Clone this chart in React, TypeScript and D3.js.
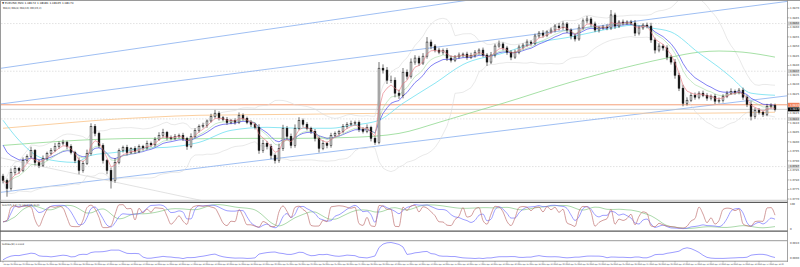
import React from "react";
import * as d3 from "d3";

// ---------- data ----------
const SYMBOL_TITLE = "\u25BC EURUSD,M20  1.08172 1.08181 1.08165 1.08170";
const INDICATOR_TITLE = "MA(4)  MA(8)  MA(10)  BB(20,2)";
const STOCH_TITLE = "Stoch(5,3,3) 72.1404 65.3021";
const STD_TITLE = "StdDev(8) 0.0003";
const BASE_PRICE = 1.077;
const PIP = 0.0001;
const FIRST_OPEN = 12.0;

const closePips = [
  9.7, 5.5, 13.9, 16.0, 15.0, 20.2, 22.3, 25.5, 19.2, 17.6,
  21.3, 23.9, 25.5, 27.6, 29.2, 29.7, 27.6, 24.4, 20.2, 15.0,
  18.7, 23.9, 38.1, 34.4, 28.1, 20.2, 15.0, 9.7, 19.2, 25.5,
  27.1, 24.4, 26.5, 25.0, 27.6, 26.8, 29.2, 28.4, 31.3, 33.4,
  35.0, 32.3, 31.8, 32.9, 33.4, 31.8, 27.6, 32.9, 36.0, 38.1,
  38.6, 40.9, 43.4, 45.0, 42.6, 41.8, 40.1, 41.2, 40.3, 43.9,
  42.3, 40.2, 39.2, 37.6, 25.5, 29.2, 27.6, 22.9, 20.2, 26.6,
  37.1, 32.9, 28.1, 37.1, 41.3, 39.2, 37.1, 35.5, 31.8, 26.6,
  29.2, 28.1, 33.4, 34.4, 35.5, 38.1, 39.2, 39.7, 40.2, 36.5,
  35.5, 37.6, 31.8, 29.7, 68.6, 67.6, 62.3, 62.3, 55.5, 54.4,
  66.5, 64.4, 71.8, 73.9, 71.3, 74.9, 82.3, 80.2, 78.1, 77.0,
  78.0, 73.9, 72.8, 74.5, 75.5, 76.0, 74.4, 75.2, 77.0, 78.1,
  75.5, 71.8, 75.5, 80.2, 81.3, 79.2, 77.0, 74.4, 77.0, 79.7,
  80.7, 82.3, 81.6, 85.5, 87.0, 85.9, 87.6, 88.6, 90.7, 89.8,
  91.8, 88.6, 85.5, 83.9, 89.7, 93.4, 94.4, 91.8, 88.6, 89.7,
  90.2, 89.7, 96.5, 90.7, 92.8, 92.3, 92.8, 92.3, 87.0, 89.7,
  91.2, 90.7, 83.4, 78.1, 80.2, 79.2, 74.4, 71.8, 64.9, 58.1,
  50.2, 51.8, 54.4, 53.4, 55.5, 54.4, 52.9, 53.9, 51.3, 51.8,
  53.9, 55.5, 56.5, 56.0, 57.1, 53.4, 49.7, 43.4, 46.5, 45.5,
  44.4, 48.6, 49.1, 47.0,
];

const upperWickPips = [
  1.2, 1.0, 2.1, 1.4, 0.8, 1.6, 1.1, 1.9, 0.7, 1.3,
  1.5, 0.9, 1.2, 1.8, 1.0, 1.4, 0.8, 1.1, 0.9, 1.6,
  1.3, 2.0, 1.6, 1.2, 0.9, 1.1, 0.8, 1.5, 2.2, 1.0,
  0.9, 1.3, 0.7, 1.2, 1.0, 0.8, 1.4, 0.9, 1.1, 1.6,
  1.8, 0.7, 1.0, 1.2, 0.9, 1.3, 0.8, 1.5, 1.1, 1.0,
  1.4, 0.8, 1.3, 1.7, 1.0, 0.9, 1.2, 0.8, 1.1, 1.5,
  1.0, 0.9, 1.2, 0.8, 1.6, 1.9, 1.1, 1.3, 1.0, 2.4,
  1.8, 1.2, 1.4, 2.0, 1.6, 0.9, 1.1, 0.8, 1.2, 1.0,
  1.5, 0.9, 1.3, 1.0, 0.8, 1.2, 1.1, 1.4, 0.9, 1.0,
  1.2, 1.5, 0.8, 1.0, 3.2, 2.0, 1.6, 2.4, 1.5, 1.8,
  2.2, 1.4, 1.9, 1.5, 1.2, 1.6, 2.6, 1.3, 1.0, 1.2,
  0.9, 1.1, 1.4, 1.0, 1.3, 0.8, 1.2, 1.5, 1.1, 0.9,
  1.3, 1.0, 1.6, 1.2, 1.8, 0.9, 1.1, 1.0, 1.3, 1.2,
  1.0, 1.4, 0.9, 1.2, 1.1, 1.5, 0.8, 1.3, 1.0, 1.6,
  1.4, 1.0, 0.9, 1.2, 1.8, 1.3, 1.6, 1.0, 1.2, 0.9,
  1.1, 1.4, 2.6, 1.2, 1.0, 1.3, 0.9, 1.1, 1.5, 1.2,
  1.0, 1.3, 1.7, 1.2, 1.5, 1.0, 1.4, 1.1, 1.6, 1.3,
  1.8, 1.5, 1.2, 1.4, 1.0, 1.3, 1.1, 0.9, 1.2, 1.4,
  1.0, 1.2, 1.5, 0.9, 1.1, 1.3, 1.0, 1.6, 1.4, 1.2,
  1.0, 1.3, 1.1, 0.9,
];

const lowerWickPips = [
  1.5, 4.3, 1.0, 1.3, 1.8, 0.9, 1.2, 1.0, 1.6, 1.4,
  0.8, 1.2, 1.0, 0.9, 1.3, 1.1, 1.5, 1.0, 1.4, 2.0,
  1.2, 0.9, 1.1, 1.5, 1.3, 1.6, 2.0, 4.2, 1.2, 1.0,
  1.1, 1.4, 0.8, 1.2, 1.0, 1.3, 0.9, 1.1, 1.0, 0.8,
  1.2, 1.5, 1.0, 0.9, 1.1, 1.4, 1.8, 1.0, 0.9, 1.2,
  1.0, 1.3, 0.8, 1.1, 1.4, 1.0, 1.2, 0.9, 1.3, 1.0,
  1.2, 1.0, 1.4, 1.1, 1.8, 1.3, 1.6, 2.0, 1.6, 1.2,
  1.4, 1.8, 1.5, 1.2, 1.0, 1.3, 1.1, 1.4, 1.6, 2.2,
  1.0, 1.5, 1.2, 0.9, 1.1, 1.0, 1.3, 0.8, 1.2, 1.4,
  1.1, 1.0, 1.6, 1.3, 1.0, 1.8, 2.0, 1.5, 2.2, 1.9,
  1.6, 1.8, 1.2, 1.4, 1.5, 1.0, 1.3, 1.6, 1.2, 1.1,
  1.3, 1.5, 1.2, 1.0, 0.9, 1.2, 1.4, 1.0, 1.1, 1.3,
  1.2, 2.0, 1.0, 1.3, 0.9, 1.2, 1.4, 1.6, 1.0, 1.1,
  1.3, 0.9, 1.2, 1.0, 1.1, 1.3, 1.0, 0.9, 1.2, 1.4,
  1.1, 1.6, 1.8, 1.3, 1.0, 0.9, 1.2, 1.4, 1.1, 1.3,
  1.0, 1.2, 1.1, 1.5, 1.0, 1.2, 0.9, 1.1, 1.6, 1.2,
  1.0, 1.2, 1.5, 1.8, 1.2, 1.4, 1.6, 1.3, 1.8, 1.5,
  1.6, 1.2, 1.0, 1.3, 1.1, 1.0, 1.4, 1.2, 1.5, 1.1,
  1.2, 1.0, 0.9, 1.3, 1.1, 1.4, 1.5, 2.2, 1.3, 1.2,
  1.4, 1.0, 1.2, 1.1,
];

const START_TIME = new Date(2024, 3, 24, 2, 0);
const BAR_MINUTES = 20;

const priceTickLabels = [
  "1.0870", "1.0865", "1.0860", "1.0855", "1.0850", "1.0845", "1.0840",
  "1.0835", "1.0830", "1.0825", "1.0820", "1.0815", "1.0810", "1.0805",
  "1.0800", "1.0795", "1.0790", "1.0785", "1.0780", "1.0775", "1.0770",
];
const levelLabels = ["1.0862", "1.0837", "1.0812", "1.0787"];
const resistanceLabel = "1.0819";
const stochAxisLabels = ["100", "0"];
const stdAxisLabels = ["0.0010", "0.0000"];

const BLUE_SEED_PIPS = 32;

// slower indicator lines: [bar, pips]
const cyanLine: [number, number][] = [
  [0, 41.3], [4, 30.8], [10, 21.3], [18, 19.2], [22, 22.9], [28, 24.4], [35, 26.6],
  [41, 27.1], [49, 29.7], [57, 36.0], [66, 37.6], [74, 37.1], [82, 37.1], [87, 38.6],
  [91, 39.7], [94, 41.3], [100, 50.2], [108, 60.7], [115, 70.5], [125, 76.5],
  [133, 81.8], [142, 85.0], [150, 88.6], [158, 91.2], [162, 89.7], [167, 87.6],
  [174, 76.5], [179, 69.0], [182, 63.9], [187, 55.5], [193, 54.4],
];
const slowGreenLine: [number, number][] = [
  [0, 28.1], [7, 29.2], [14, 30.2], [24, 31.3], [37, 31.8], [49, 31.6], [62, 31.8],
  [74, 31.8], [87, 32.3], [99, 34.4], [109, 40.2], [119, 46.5], [125, 50.2],
  [142, 61.3], [158, 70.2], [167, 74.4], [174, 77.0], [179, 77.6], [185, 77.0], [193, 74.4],
];
const orangeMaLine: [number, number][] = [
  [0, 37.1], [12, 39.2], [24, 41.3], [37, 42.9], [49, 43.9], [74, 44.4],
  [99, 45.0], [137, 45.0], [174, 45.0], [193, 45.5],
];
// drawn objects: [bar, pips] anchors
const channelLines: [number, number][][] = [
  [[-1, 3.4], [196, 54.1]],
  [[-1, 49.7], [196, 103.6]],
  [[-1, 68.4], [119, 105.1]],
];
const greyTrendLine: [number, number][] = [[-1, 21.8], [60, -5.4]];
const levelPips = [92, 67, 42, 17];
const resistancePips = 49.4;

// ---------- helpers ----------
function ema(v: number[], period: number, seed?: number) {
  const a = 2 / (period + 1);
  let prev = seed ?? v[0];
  return v.map((x, i) => {
    if (i === 0 && seed === undefined) return prev;
    prev = prev + a * (x - prev);
    return prev;
  });
}
function rolling(v: number[], n: number, fn: (w: number[]) => number) {
  return v.map((_, i) => fn(v.slice(Math.max(0, i - n + 1), i + 1)));
}
function popStd(w: number[]) {
  const m = d3.mean(w)!;
  return Math.sqrt(d3.mean(w.map((x) => (x - m) * (x - m)))!);
}
function stoch(h: number[], l: number[], c: number[], n: number, slow: number) {
  const num = c.map((ci, i) => ci - d3.min(l.slice(Math.max(0, i - n + 1), i + 1))!);
  const den = c.map((_, i) => {
    const s = Math.max(0, i - n + 1);
    return d3.max(h.slice(s, i + 1))! - d3.min(l.slice(s, i + 1))!;
  });
  return c.map((_, i) => {
    const s = Math.max(0, i - slow + 1);
    const a = d3.sum(num.slice(s, i + 1));
    const b = d3.sum(den.slice(s, i + 1));
    return b === 0 ? 50 : (100 * a) / b;
  });
}

export default function App() {
  const W = 800;
  const H = 267;
  const N = closePips.length;
  const price = (p: number) => BASE_PRICE + p * PIP;

  const opens = closePips.map((c, i) => (i === 0 ? FIRST_OPEN : closePips[i - 1]));
  const highs = closePips.map((c, i) => Math.max(opens[i], c) + upperWickPips[i]);
  const lows = closePips.map((c, i) => Math.min(opens[i], c) - lowerWickPips[i]);

  const x = d3.scaleLinear().domain([0, N - 1]).range([3, 775]);
  const y = d3.scaleLinear().domain([BASE_PRICE, BASE_PRICE + 0.01]).range([199, 8.3]);
  const py = (p: number) => y(price(p));

  const lineP = (curve = d3.curveLinear) =>
    d3.line<[number, number]>().x((d) => x(d[0])).y((d) => py(d[1])).curve(curve);
  const series = (v: number[]) => v.map((p, i) => [i, p] as [number, number]);

  const red = ema(closePips, 4);
  const fastGreen = ema(closePips, 8);
  const blue = ema(closePips, 11, BLUE_SEED_PIPS);
  const bbMid = rolling(closePips, 20, (w) => d3.mean(w)!);
  const bbSd = rolling(closePips, 20, popStd);
  const bbUp = bbMid.map((m, i) => m + 2 * bbSd[i]);
  const bbLo = bbMid.map((m, i) => m - 2 * bbSd[i]);

  // stochastic pane
  const stRed = stoch(highs, lows, closePips, 4, 1);
  const stBlue = stoch(highs, lows, closePips, 12, 2);
  const stGreenRaw = stoch(highs, lows, closePips, 30, 3);
  const stGreen = rolling(stGreenRaw, 4, (w) => d3.mean(w)!);
  const ys = d3.scaleLinear().domain([0, 100]).range([229.6, 203.6]);
  const stLine = d3.line<number>().x((_, i) => x(i)).y((d) => ys(d)).curve(d3.curveMonotoneX);

  // std pane
  const sd = rolling(closePips, 8, popStd).map((p) => p * PIP);
  const yd = d3.scaleLinear().domain([0, d3.max(sd)! * 1.04]).range([259.8, 241.8]);
  const sdLine = d3.line<number>().x((_, i) => x(i)).y((d) => yd(d));

  // time axis
  const times = closePips.map((_, i) => d3.timeMinute.offset(START_TIME, i * BAR_MINUTES));
  const fmt = d3.timeFormat("%d %b %H:%M");
  const timeTicks = times.map((t, i) => ({ t, i })).filter((d) => d.t.getMinutes() === 0);

  const lastClose = closePips[N - 1];
  const font = "'DejaVu Sans', sans-serif";
  const axisX = 787.5;

  const label = (yy: number, text: string, bg: string | null, fg: string, key: string) => (
    <g key={key}>
      {bg && <rect x={axisX + 0.5} y={yy - 2} width={W - axisX - 1} height={4} fill={bg} />}
      <text x={790} y={yy + 0.9} fontSize={2.6} fill={fg} fontFamily={font}>
        {text}
      </text>
    </g>
  );

  return (
    <svg
      width={W}
      height={H}
      style={{ position: "absolute", left: 0, top: 0, background: "#fff" }}
    >
      <defs>
        <clipPath id="mainClip">
          <rect x={1} y={1} width={axisX - 1} height={199} />
        </clipPath>
        <clipPath id="subClip">
          <rect x={1} y={202} width={axisX - 1} height={60} />
        </clipPath>
      </defs>
      <rect x={0} y={0} width={W} height={H} fill="#fff" />

      {/* frames */}
      <line x1={0.5} x2={W} y1={0.5} y2={0.5} stroke="#9a9a9a" />
      <line x1={0.5} x2={0.5} y1={0} y2={262} stroke="#9a9a9a" />
      <line x1={axisX} x2={axisX} y1={0} y2={262} stroke="#8a8a8a" strokeWidth={0.8} />
      <line x1={0} x2={axisX} y1={200.3} y2={200.3} stroke="#b0b0b0" strokeWidth={0.7} />
      <line x1={0} x2={axisX} y1={202.3} y2={202.3} stroke="#5a5a5a" strokeWidth={1.2} />
      <line x1={0} x2={axisX} y1={231.2} y2={231.2} stroke="#5a5a5a" strokeWidth={1.2} />
      <line x1={0} x2={axisX} y1={240.7} y2={240.7} stroke="#9a9a9a" strokeWidth={1} />
      <line x1={0} x2={axisX} y1={261.2} y2={261.2} stroke="#9a9a9a" strokeWidth={1} />

      {/* main pane */}
      <g clipPath="url(#mainClip)">
        {levelPips.map((p, i) => (
          <line key={"lv" + i} x1={1} x2={axisX} y1={py(p)} y2={py(p)} stroke="#cfcfcf" strokeWidth={0.6} strokeDasharray="1.5,1.5" />
        ))}
        {channelLines.map((l, i) => (
          <path key={"ch" + i} d={lineP()(l)!} stroke="#86aef0" strokeWidth={0.8} fill="none" />
        ))}
        <path d={lineP()(greyTrendLine)!} stroke="#d6d6d6" strokeWidth={0.7} fill="none" />
        <line x1={1} x2={axisX} y1={py(resistancePips)} y2={py(resistancePips)} stroke="#f6a07a" strokeWidth={1} />
        <line x1={1} x2={axisX} y1={py(lastClose)} y2={py(lastClose)} stroke="#c4c4c4" strokeWidth={0.8} />
        <path d={lineP(d3.curveMonotoneX)(orangeMaLine)!} stroke="#fbc995" strokeWidth={0.9} fill="none" />
        <path d={lineP()(series(bbUp))!} stroke="#dadada" strokeWidth={0.6} fill="none" />
        <path d={lineP()(series(bbLo))!} stroke="#dadada" strokeWidth={0.6} fill="none" />
        <path d={lineP(d3.curveMonotoneX)(slowGreenLine)!} stroke="#8fd88f" strokeWidth={0.8} fill="none" />
        <path d={lineP(d3.curveMonotoneX)(cyanLine)!} stroke="#7fe3f2" strokeWidth={0.9} fill="none" />
        <path d={lineP()(series(blue))!} stroke="#6262f0" strokeWidth={0.8} fill="none" />
        <path d={lineP()(series(fastGreen))!} stroke="#a6dca6" strokeWidth={0.6} fill="none" />

        {closePips.map((c, i) => {
          const o = opens[i];
          const bull = c >= o;
          const top = py(Math.max(o, c));
          const bot = py(Math.min(o, c));
          const cx = x(i);
          return (
            <g key={"c" + i}>
              <line x1={cx} x2={cx} y1={py(highs[i])} y2={py(lows[i])} stroke="#111" strokeWidth={0.6} />
              <rect
                x={cx - 0.9}
                y={top}
                width={1.8}
                height={Math.max(0.5, bot - top)}
                fill={bull ? "#fff" : "#111"}
                stroke="#111"
                strokeWidth={0.5}
              />
            </g>
          );
        })}
        <path d={lineP()(series(red))!} stroke="#e6707a" strokeWidth={0.6} fill="none" />
      </g>

      {/* titles */}
      <text x={2} y={4} fontSize={2.8} fill="#222" fontFamily={font}>{SYMBOL_TITLE}</text>
      <text x={3} y={9.3} fontSize={2.6} fill="#333" fontFamily={font}>{INDICATOR_TITLE}</text>

      {/* right price axis */}
      {priceTickLabels.map((t, k) => {
        const yy = y(+t);
        return (
          <g key={"pt" + k}>
            <line x1={axisX} x2={axisX + 2} y1={yy} y2={yy} stroke="#777" strokeWidth={0.5} />
            {label(yy, t, null, "#333", "pl" + k)}
          </g>
        );
      })}
      {levelPips.map((p, i) => label(py(p), levelLabels[i], "#cfcfcf", "#333", "ll" + i))}
      {label(py(resistancePips), resistanceLabel, "#f4845c", "#fff", "res")}
      {label(py(lastClose), price(lastClose).toFixed(4), "#000", "#fff", "bid")}

      {/* stochastic pane */}
      <g clipPath="url(#subClip)">
        <path d={stLine(stGreen)!} stroke="#86c986" strokeWidth={0.7} fill="none" />
        <path d={stLine(stBlue)!} stroke="#7676ff" strokeWidth={0.7} fill="none" />
        <path d={stLine(stRed)!} stroke="#c07272" strokeWidth={0.7} fill="none" />
      </g>
      <text x={2} y={206} fontSize={2.5} fill="#333" fontFamily={font}>{STOCH_TITLE}</text>
      {label(ys(100) + 0.6, stochAxisLabels[0], null, "#333", "s100")}
      {label(ys(0) - 0.4, stochAxisLabels[1], null, "#333", "s0")}

      {/* std pane */}
      <g clipPath="url(#subClip)">
        <path d={sdLine(sd)!} stroke="#8484ff" strokeWidth={0.8} fill="none" />
      </g>
      <text x={2} y={244.5} fontSize={2.5} fill="#333" fontFamily={font}>{STD_TITLE}</text>
      {label(243.5, stdAxisLabels[0], null, "#333", "d1")}
      {label(258.5, stdAxisLabels[1], null, "#333", "d0")}

      {/* time axis */}
      {timeTicks.map((d) => (
        <g key={"tt" + d.i}>
          <line x1={x(d.i)} x2={x(d.i)} y1={261.2} y2={262.6} stroke="#777" strokeWidth={0.5} />
          <text x={x(d.i) + 0.5} y={265} fontSize={1.9} fill="#333" fontFamily={font}>
            {fmt(d.t)}
          </text>
        </g>
      ))}
    </svg>
  );
}
